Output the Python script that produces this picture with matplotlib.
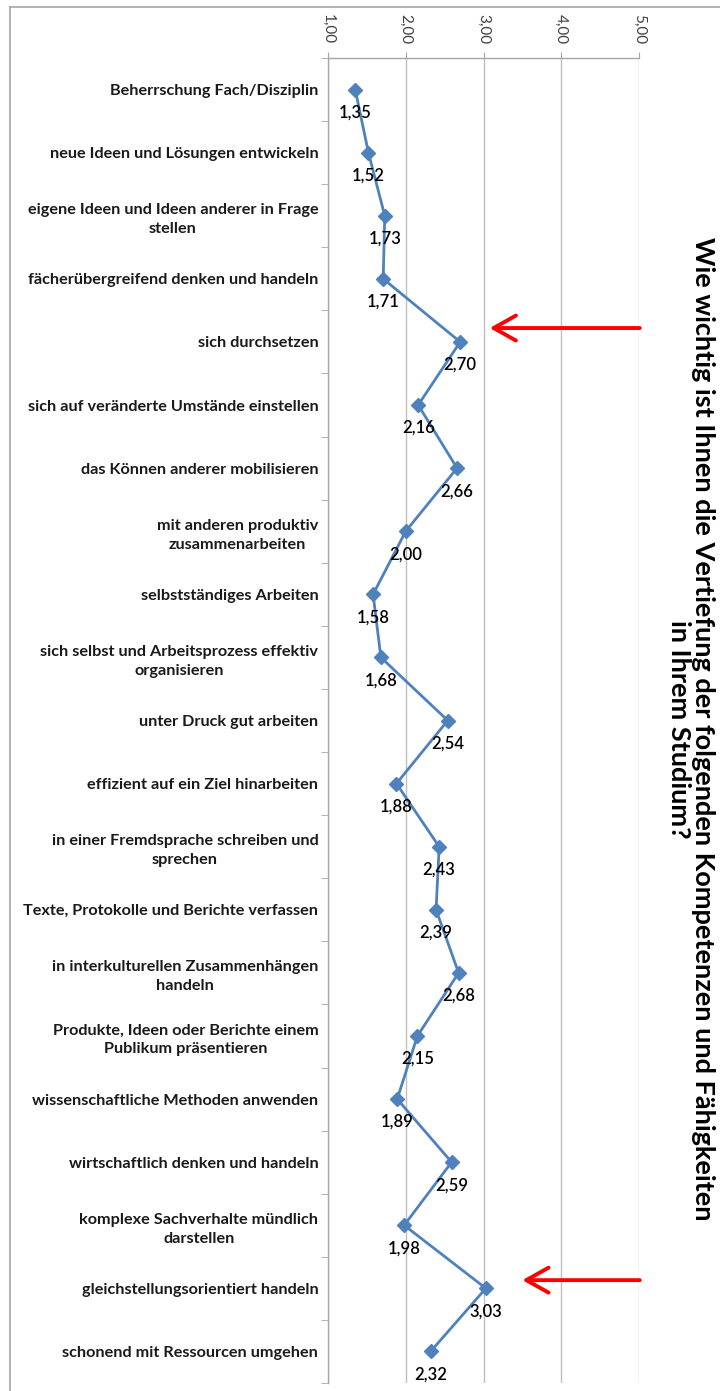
import matplotlib
matplotlib.use("Agg")
import matplotlib.pyplot as plt
from matplotlib.lines import Line2D
import numpy as np

categories = [
    "Beherrschung Fach/Disziplin",
    "neue Ideen und Lösungen entwickeln",
    "eigene Ideen und Ideen anderer in Frage\nstellen",
    "fächerübergreifend denken und handeln",
    "sich durchsetzen",
    "sich auf veränderte Umstände einstellen",
    "das Können anderer mobilisieren",
    "mit anderen produktiv\nzusammenarbeiten",
    "selbstständiges Arbeiten",
    "sich selbst und Arbeitsprozess effektiv\norganisieren",
    "unter Druck gut arbeiten",
    "effizient auf ein Ziel hinarbeiten",
    "in einer Fremdsprache schreiben und\nsprechen",
    "Texte, Protokolle und Berichte verfassen",
    "in interkulturellen Zusammenhängen\nhandeln",
    "Produkte, Ideen oder Berichte einem\nPublikum präsentieren",
    "wissenschaftliche Methoden anwenden",
    "wirtschaftlich denken und handeln",
    "komplexe Sachverhalte mündlich\ndarstellen",
    "gleichstellungsorientiert handeln",
    "schonend mit Ressourcen umgehen",
]
values = [1.35, 1.52, 1.73, 1.71, 2.70, 2.16, 2.66, 2.00, 1.58, 1.68, 2.54,
          1.88, 2.43, 2.39, 2.68, 2.15, 1.89, 2.59, 1.98, 3.03, 2.32]
x_ticks = [1, 2, 3, 4, 5]
x_ticklabels = ["1,00", "2,00", "3,00", "4,00", "5,00"]
title = ("Wie wichtig ist Ihnen die Vertiefung der folgenden Kompetenzen und Fähigkeiten\n"
         "in Ihrem Studium?")
# highlight arrows: (y position in category units, head x, tail x)
arrows = [(3.78, 3.08, 5.01), (18.87, 3.50, 5.01)]

plt.rcParams['font.family'] = ['Lato', 'DejaVu Sans']

W, H = 720, 1391
fig = plt.figure(figsize=(W / 100, H / 100), dpi=100)
fig.patch.set_facecolor('white')

ax = fig.add_axes([328 / W, 1 - 1383 / H, (639 - 328) / W, (1383 - 58) / H])
ypos = np.arange(len(categories))
ax.plot(values, ypos, color='#4F81BD', lw=2, marker='D', markersize=7.5,
        markeredgecolor='#4F81BD', markerfacecolor='#4F81BD', zorder=3, clip_on=False)

for v, y in zip(values, ypos):
    ax.annotate(f"{v:.2f}".replace('.', ','), (v, y), xytext=(0, -23),
                textcoords='offset pixels', ha='center', va='center',
                fontsize=12, fontweight='semibold', color='black')

ax.set_xlim(1, 5)
ax.set_ylim(len(categories) - 0.5, -0.5)

ax.xaxis.tick_top()
ax.set_xticks(x_ticks)
ax.set_xticklabels(x_ticklabels, rotation=-90, fontsize=11, color='#404040')
ax.tick_params(axis='x', which='major', length=4, color='#A6A6A6', pad=6)
ax.grid(axis='x', color='#BFBFBF', lw=1)
ax.set_axisbelow(True)

ax.set_yticks(ypos)
ax.set_yticklabels(categories, fontsize=11.7, fontweight='bold', color='#1a1a1a',
                   linespacing=1.45)
for lbl in ax.get_yticklabels():
    lbl.set_multialignment('center')
ax.set_yticks(np.arange(-0.5, len(categories), 1), minor=True)
ax.tick_params(axis='y', which='major', length=0, pad=7)
ax.tick_params(axis='y', which='minor', length=5, color='#A6A6A6')

for s in ['right', 'bottom']:
    ax.spines[s].set_visible(False)
for s in ['left', 'top']:
    ax.spines[s].set_color('#A6A6A6')
    ax.spines[s].set_linewidth(1)

for y, xh, xt in arrows:
    ax.annotate('', xy=(xh, y), xytext=(xt, y),
                arrowprops=dict(arrowstyle='->,head_length=0.8,head_width=0.45',
                                color='#FF0000', lw=2.8, mutation_scale=20,
                                shrinkA=0, shrinkB=0),
                annotation_clip=False)

fig.text(691 / W, 1 - 729 / H, title, rotation=-90, ha='center', va='center',
         multialignment='center', fontsize=19.5, fontweight='bold', color='black',
         linespacing=1.0)

# outer frame
fig.add_artist(Line2D([10 / W, 1], [1 - 7 / H, 1 - 7 / H], color='#A6A6A6', lw=1.2,
                      transform=fig.transFigure))
fig.add_artist(Line2D([10 / W, 10 / W], [0, 1 - 7 / H], color='#A6A6A6', lw=1.2,
                      transform=fig.transFigure))

fig.savefig('out.png', dpi=100)
